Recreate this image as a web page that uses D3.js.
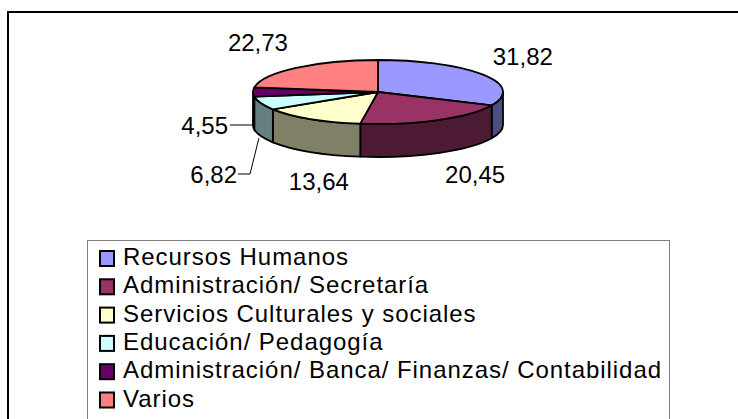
<!DOCTYPE html>
<html>
<head>
<meta charset="utf-8">
<script src="https://cdn.jsdelivr.net/npm/d3@7"></script>
<style>
  body { margin: 0; background: #fff; }
  svg { display: block; }
  text { font-family: "Liberation Sans", Arial, sans-serif; fill: #000; }
</style>
</head>
<body>
<div id="chart"></div>
<script>
var categories = [
  'Recursos Humanos',
  'Administración/ Secretaría',
  'Servicios Culturales y sociales',
  'Educación/ Pedagogía',
  'Administración/ Banca/ Finanzas/ Contabilidad',
  'Varios'
];
var values = [31.82, 20.45, 13.64, 6.82, 4.55, 22.73];
var valueLabels = ['31,82', '20,45', '13,64', '6,82', '4,55', '22,73'];

var topColors = ['#9999ff', '#993366', '#ffffcc', '#ccffff', '#660066', '#ff8080'];
var sideColors = ['#4d4d80', '#4d1a33', '#808066', '#668080', '#330033', '#804040'];

var width = 738, height = 419;
var cx = 378, cy = 92, rx = 125, ry = 32, depth = 33;

var svg = d3.select('#chart')
  .append('svg')
    .attr('width', width)
    .attr('height', height);

// outer chart frame
svg.append('rect')
    .attr('x', 8).attr('y', 12)
    .attr('width', 800).attr('height', 500)
    .attr('fill', '#fff')
    .attr('stroke', '#000')
    .attr('stroke-width', 2);

var xs = d3.scaleLinear().domain([-1, 1]).range([cx - rx, cx + rx]);
var ys = d3.scaleLinear().domain([-1, 1]).range([cy + ry, cy - ry]);

function px(a) { return xs(Math.sin(a)); }
function py(a) { return ys(Math.cos(a)); }

var arcs = d3.pie().sort(null).value(function (d) { return d; })(values);

var g = svg.append('g');

// visible outer walls (front half only)
arcs.forEach(function (d, i) {
  var s = Math.max(d.startAngle, Math.PI / 2);
  var e = Math.min(d.endAngle, 3 * Math.PI / 2);
  if (e <= s) return;
  var p = 'M' + px(s) + ',' + py(s) +
    ' A' + rx + ',' + ry + ' 0 0 1 ' + px(e) + ',' + py(e) +
    ' L' + px(e) + ',' + (py(e) + depth) +
    ' A' + rx + ',' + ry + ' 0 0 0 ' + px(s) + ',' + (py(s) + depth) + ' Z';
  g.append('path')
      .attr('d', p)
      .attr('fill', sideColors[i])
      .attr('stroke', '#000')
      .attr('stroke-width', 1.8)
      .attr('stroke-linejoin', 'round');
});

// top faces
g.selectAll('path.top')
    .data(arcs)
    .enter()
  .append('path')
    .attr('class', 'top')
    .attr('d', function (d) {
      var large = (d.endAngle - d.startAngle) > Math.PI ? 1 : 0;
      return 'M' + cx + ',' + cy +
        ' L' + px(d.startAngle) + ',' + py(d.startAngle) +
        ' A' + rx + ',' + ry + ' 0 ' + large + ' 1 ' + px(d.endAngle) + ',' + py(d.endAngle) + ' Z';
    })
    .attr('fill', function (d, i) { return topColors[i]; })
    .attr('stroke', '#000')
    .attr('stroke-width', 1.8)
    .attr('stroke-linejoin', 'round');

// value labels
var lrx = rx + 40, lry = ry + 22;
var labelNudge = [[6, -6], [18, 2], [30, 11], [0, 0], [0, 0], [-12, -9]];

arcs.forEach(function (d, i) {
  var m = (d.startAngle + d.endAngle) / 2;
  if (i === 3 || i === 4) {
    // small slices get leader lines
    var ex = px(m), ey = py(m) + depth;
    var pts, tx, ty;
    if (i === 4) {
      pts = [[ex, ey], [230, ey]];
      tx = 228; ty = ey;
    } else {
      pts = [[ex - 2, ey + 2], [250, 174], [238, 174]];
      tx = 237; ty = 174;
    }
    svg.append('path')
        .attr('d', d3.line()(pts))
        .attr('fill', 'none')
        .attr('stroke', '#000')
        .attr('stroke-width', 1);
    svg.append('text')
        .attr('x', tx).attr('y', ty)
        .attr('dy', '0.36em')
        .attr('text-anchor', 'end')
        .style('font-size', '24px')
        .text(valueLabels[i]);
    return;
  }
  var front = Math.cos(m) < 0 ? depth : 0;
  var x = cx + lrx * Math.sin(m) + labelNudge[i][0];
  var y = cy - lry * Math.cos(m) + front + labelNudge[i][1];
  svg.append('text')
      .attr('x', x).attr('y', y)
      .attr('dy', '0.36em')
      .attr('text-anchor', 'middle')
      .style('font-size', '24px')
      .text(valueLabels[i]);
});

// legend
var legend = svg.append('g');
legend.append('rect')
    .attr('x', 87.5).attr('y', 240.5)
    .attr('width', 582).attr('height', 300)
    .attr('fill', '#fff')
    .attr('stroke', '#808080')
    .attr('stroke-width', 1);

var ly = d3.scalePoint().domain(categories).range([265, 406.5]);

var item = legend.selectAll('g.item')
    .data(categories)
    .enter()
  .append('g')
    .attr('class', 'item')
    .attr('transform', function (d) { return 'translate(0,' + ly(d) + ')'; });

item.append('rect')
    .attr('x', 100).attr('y', -14)
    .attr('width', 14).attr('height', 15)
    .attr('fill', function (d, i) { return topColors[i]; })
    .attr('stroke', '#000')
    .attr('stroke-width', 2);

item.append('text')
    .attr('x', 123).attr('y', 0)
    .style('font-size', '24px')
    .style('letter-spacing', '0.95px')
    .text(function (d) { return d; });
</script>
</body>
</html>
